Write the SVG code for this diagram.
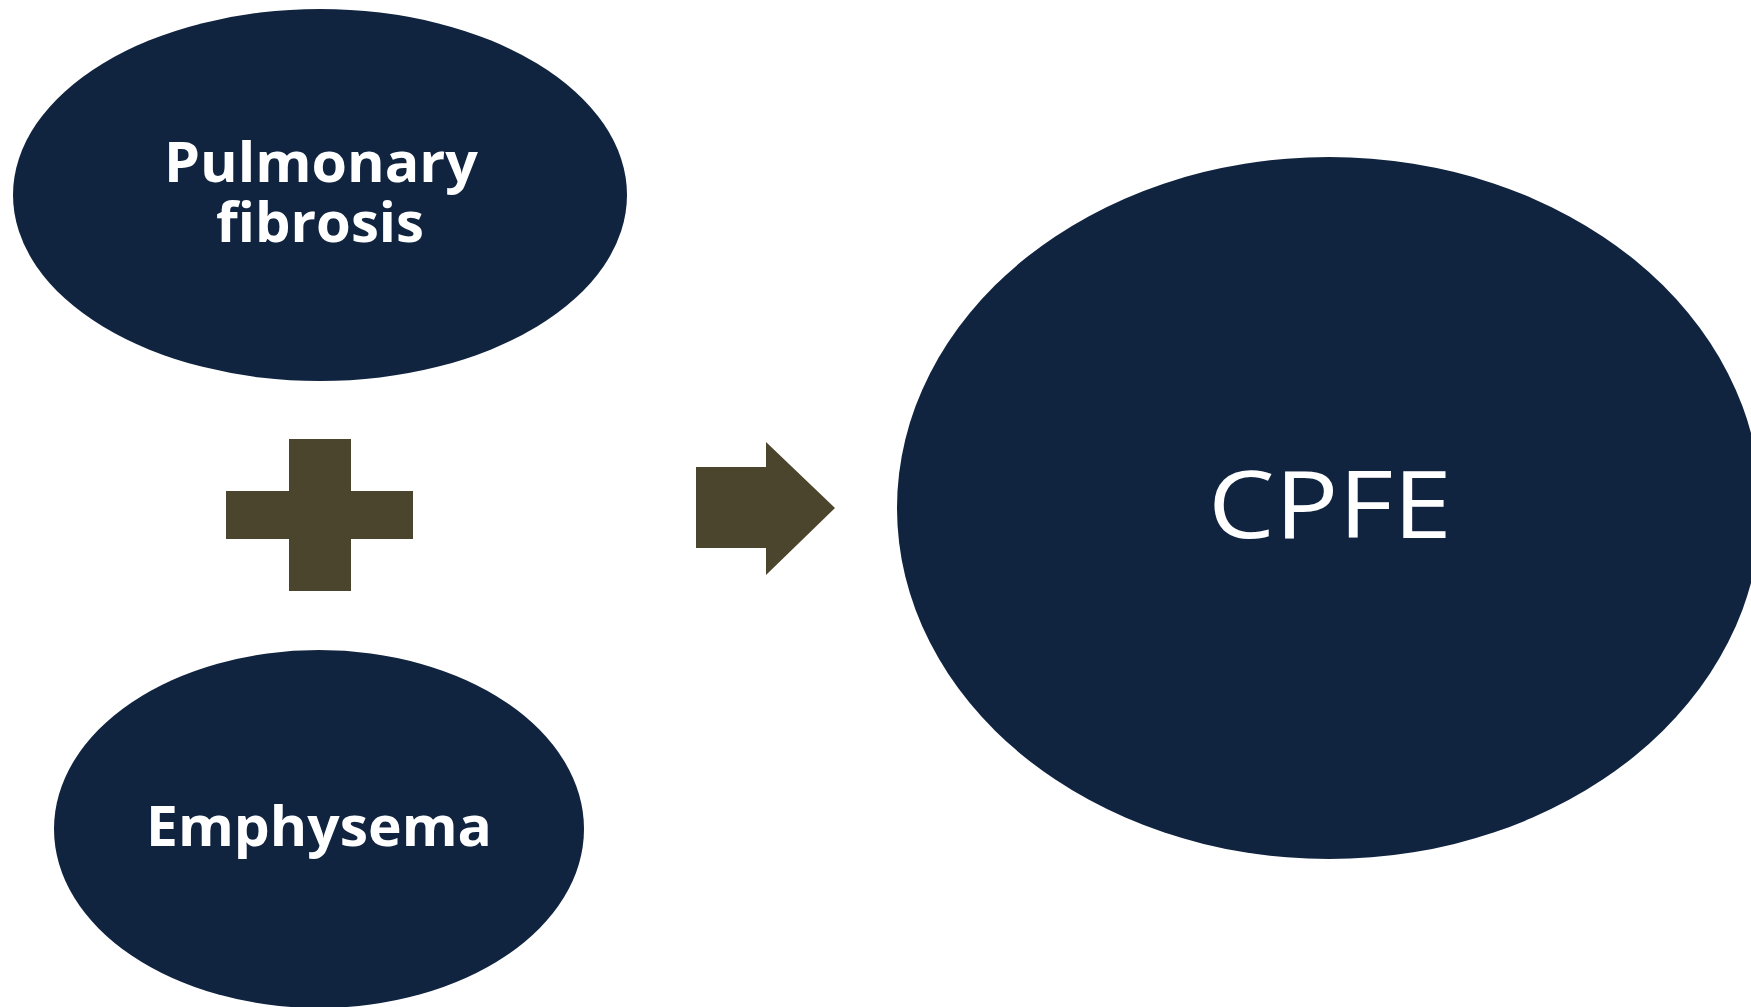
<svg xmlns="http://www.w3.org/2000/svg" width="1751" height="1007" viewBox="0 0 1751 1007">
<style>
.node{fill:#10233F}
.sym{fill:#4B452D}
.lbl{fill:#FFFFFF;font-family:"Open Sans","Liberation Sans",sans-serif;text-anchor:middle}
.b{font-weight:bold;font-size:55px}
</style>
<rect width="1751" height="1007" fill="#FFFFFF"/>
<g id="node-pulmonary-fibrosis">
<ellipse class="node" cx="320" cy="195" rx="307" ry="186"/>
<text class="lbl b" x="321" y="182" textLength="314" lengthAdjust="spacingAndGlyphs">Pulmonary</text>
<text class="lbl b" x="320" y="242" textLength="208" lengthAdjust="spacingAndGlyphs">fibrosis</text>
</g>
<g id="node-emphysema">
<ellipse class="node" cx="319" cy="829" rx="265" ry="179"/>
<text class="lbl b" x="319" y="846" textLength="346" lengthAdjust="spacingAndGlyphs">Emphysema</text>
</g>
<g id="node-cpfe">
<ellipse class="node" cx="1329" cy="508" rx="432" ry="351"/>
<text class="lbl" x="1330" y="538" font-size="94" textLength="244" lengthAdjust="spacingAndGlyphs">CPFE</text>
</g>
<g id="connectors">
<path class="sym" d="M289 439H351V491H413V539H351V591H289V539H226V491H289Z"/>
<path class="sym" d="M696 467H766V442L835 508L766 575V548H696Z"/>
</g>
</svg>
